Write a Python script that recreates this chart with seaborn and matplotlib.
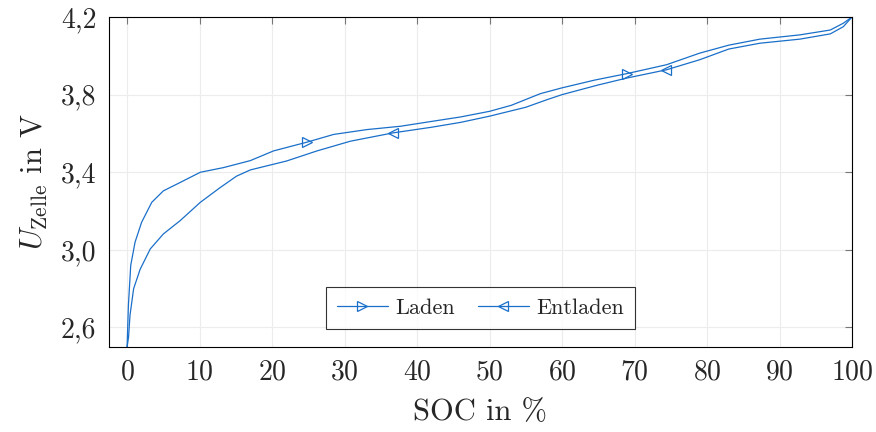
import pandas as pd
import seaborn as sns
import matplotlib.pyplot as plt

# SOC in % and cell voltage in V
soc_laden = [0.0, 0.18, 0.5, 1.1, 2.0, 3.4, 5.0, 7.3, 10.1, 13.3, 17.0,
             20.2, 24.8, 28.5, 33.1, 37.7, 42.0, 46.0, 50.0, 53.0, 55.0,
             57.0, 60.0, 64.5, 68.9, 74.4, 79.0, 83.0, 87.3, 92.8, 97.0,
             98.8, 100.0]
u_laden = [2.50, 2.714, 2.92, 3.04, 3.142, 3.245, 3.304, 3.347, 3.40,
           3.424, 3.46, 3.51, 3.555, 3.595, 3.62, 3.637, 3.662, 3.685,
           3.714, 3.745, 3.775, 3.805, 3.835, 3.875, 3.908, 3.954, 4.014,
           4.055, 4.086, 4.108, 4.133, 4.168, 4.20]

soc_entladen = [0.0, 0.2, 0.4, 0.9, 1.8, 3.2, 5.0, 7.3, 10.1, 12.8, 15.1,
                17.0, 22.0, 26.2, 30.8, 36.7, 42.0, 46.0, 50.0, 55.0, 58.0,
                60.0, 65.0, 69.0, 74.4, 79.0, 83.0, 87.3, 92.8, 97.0, 98.8,
                100.0]
u_entladen = [2.50, 2.55, 2.663, 2.80, 2.90, 3.005, 3.082, 3.15, 3.245,
              3.32, 3.38, 3.412, 3.458, 3.51, 3.56, 3.603, 3.632, 3.657,
              3.689, 3.735, 3.775, 3.80, 3.85, 3.886, 3.928, 3.98, 4.035,
              4.065, 4.086, 4.113, 4.15, 4.20]

marks_laden = [12, 24]
marks_entladen = [15, 24]

x_ticks = [0, 10, 20, 30, 40, 50, 60, 70, 80, 90, 100]
y_ticks = [2.6, 3.0, 3.4, 3.8, 4.2]
y_tick_labels = ["2,6", "3,0", "3,4", "3,8", "4,2"]


def main():
    sns.set_style("white")
    plt.rcParams["font.family"] = "serif"
    plt.rcParams["font.serif"] = ["cmr10", "DejaVu Serif"]
    plt.rcParams["mathtext.fontset"] = "cm"
    plt.rcParams["axes.unicode_minus"] = False
    plt.rcParams["axes.formatter.use_mathtext"] = True

    df_laden = pd.DataFrame({"SOC": soc_laden, "U": u_laden})
    df_entladen = pd.DataFrame({"SOC": soc_entladen, "U": u_entladen})

    fig = plt.figure(figsize=(8.76, 4.32), dpi=100)
    ax = fig.add_axes([0.1244, 0.197, 0.8482, 0.7636])

    color = "#1a6fc9"
    sns.lineplot(data=df_laden, x="SOC", y="U", sort=False, ax=ax,
                 color=color, linewidth=0.9, marker=">", markersize=7,
                 markerfacecolor="none", markeredgecolor=color,
                 markeredgewidth=0.9, markevery=marks_laden, label="Laden")
    sns.lineplot(data=df_entladen, x="SOC", y="U", sort=False, ax=ax,
                 color=color, linewidth=0.9, marker="<", markersize=7,
                 markerfacecolor="none", markeredgecolor=color,
                 markeredgewidth=0.9, markevery=marks_entladen,
                 label="Entladen")

    # Axis limits and ticks
    ax.set_xlim(-2.5, 100)
    ax.set_ylim(2.5, 4.2)
    ax.set_xticks(x_ticks)
    ax.set_yticks(y_ticks)
    ax.set_yticklabels(y_tick_labels)
    ax.tick_params(direction="in", length=5, width=0.8, color="#777777",
                   top=True, right=True, labelsize=20, pad=9)
    ax.grid(True, color="#ececec", linewidth=0.8)
    for spine in ax.spines.values():
        spine.set_color("black")
        spine.set_linewidth(0.8)

    # Labels
    ax.set_xlabel("SOC in %", fontsize=22, labelpad=9)
    ax.set_ylabel(r"$U_{\mathrm{Zelle}}$ in V", fontsize=22, labelpad=8)

    # Legend
    leg = ax.legend(loc="lower center", bbox_to_anchor=(0.5, 0.055),
                    ncol=2, fontsize=16, frameon=True, fancybox=False,
                    edgecolor="black", borderpad=0.5, handlelength=2.3,
                    columnspacing=1.0, handletextpad=0.35,
                    borderaxespad=0.0)
    leg.get_frame().set_linewidth(0.8)

    plt.savefig("out.png", dpi=100)


if __name__ == "__main__":
    main()
